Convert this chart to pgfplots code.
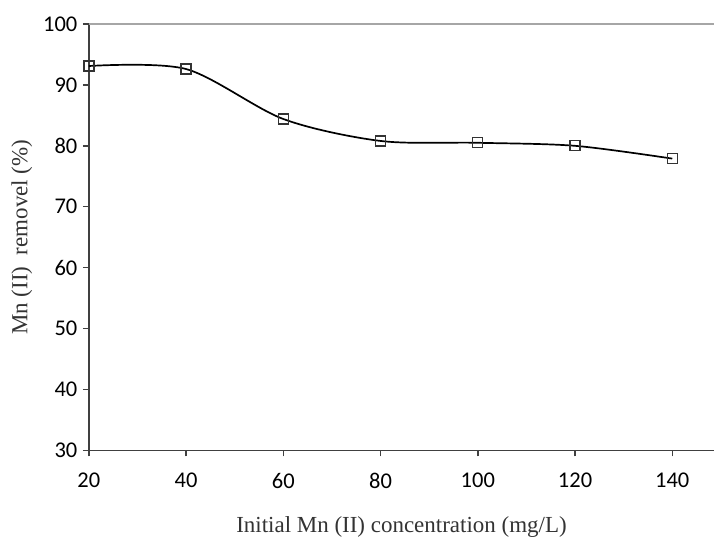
\documentclass[border=0pt]{standalone}
\usepackage{fontspec}
\setmainfont{Liberation Serif}
\newfontfamily\tickfont{Carlito}
\usepackage{pgfplots}
\pgfplotsset{compat=1.18}
\begin{document}
\begin{tikzpicture}[x=1pt,y=1pt]
\path (-89,-79) rectangle (626,451);
\begin{axis}[
  at={(0,0)}, anchor=origin,
  scale only axis, width=626pt, height=427pt,
  xmin=20, xmax=148.6, ymin=30, ymax=100,
  axis x line=bottom, axis y line=left,
  axis line style={-, line width=1.8pt, black!75},
  xtick={20,40,...,140}, ytick={30,40,...,100},
  tick style={line width=1.4pt, black!75},
  xtick align=outside, ytick align=outside,
  major tick length=6pt,
  tick label style={font=\tickfont\fontsize{22.5}{23}\selectfont, text=black},
  /pgf/number format/assume math mode=true,
  xticklabel style={yshift=-13pt},
  yticklabel style={xshift=-2pt},
  xlabel={Initial Mn (II) concentration (mg/L)},
  ylabel={Mn (II)\ \ removel (\%)},
  label style={font=\fontsize{23}{23}\selectfont, text=black!80},
  xlabel style={yshift=-21pt},
  ylabel style={yshift=4pt},
  clip=false,
]
\addplot[gray!70, line width=1.6pt] coordinates {(20,100) (148.6,100)};
\addplot[black, line width=1.7pt, smooth, mark=square, mark size=5pt,
  mark options={solid, fill=white, line width=1.3pt, black!80}]
coordinates {
(20,93.1) (40,92.6) (60,84.4) (80,80.8) (100,80.5) (120,80.0) (140,77.9)
};
\end{axis}
\end{tikzpicture}
\end{document}
